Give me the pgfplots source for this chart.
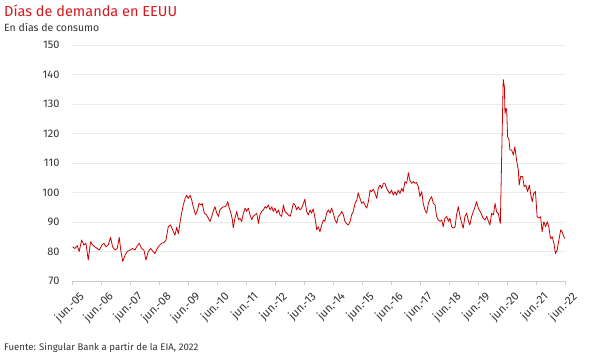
\documentclass[border=0pt]{standalone}
\usepackage{fontspec}
\setmainfont{Fira Sans}
\usepackage{pgfplots}
\pgfplotsset{compat=1.18}
\definecolor{linered}{RGB}{204,0,0}
\definecolor{titlered}{RGB}{214,24,30}
\definecolor{txt}{RGB}{51,51,51}
\definecolor{gridc}{RGB}{234,234,234}
\definecolor{axisgray}{RGB}{205,205,205}
\begin{document}
\begin{tikzpicture}
\path[use as bounding box] (0pt,0pt) rectangle (600pt,358pt);
\node[anchor=west, text=titlered, font=\fontsize{14.5}{16}\selectfont, inner sep=0] at (4pt,347pt) {Días de demanda en EEUU};
\node[anchor=west, text=txt, font=\fontsize{10.5}{12}\selectfont, inner sep=0] at (4pt,331pt) {En días de consumo};
\node[anchor=west, text=txt, font=\fontsize{9.6}{11}\selectfont, inner sep=0] at (4pt,10pt) {Fuente: Singular Bank a partir de la EIA, 2022};
\begin{axis}[
  at={(72pt,77pt)}, anchor=south west, scale only axis,
  width=493pt, height=236pt,
  xmin=2005.5, xmax=2022.5, ymin=70, ymax=150,
  ytick={70,80,90,100,110,120,130,140,150},
  xtick={2005.5,2006.5,2007.5,2008.5,2009.5,2010.5,2011.5,2012.5,2013.5,2014.5,2015.5,2016.5,2017.5,2018.5,2019.5,2020.5,2021.5,2022.5},
  xticklabels={jun.-05,jun.-06,jun.-07,jun.-08,jun.-09,jun.-10,jun.-11,jun.-12,jun.-13,jun.-14,jun.-15,jun.-16,jun.-17,jun.-18,jun.-19,jun.-20,jun.-21,jun.-22},
  /pgf/number format/assume math mode=true,
  axis x line*=bottom, axis y line*=left,
  x axis line style={draw=axisgray, line width=0.8pt, -},
  y axis line style={draw=none},
  ytick style={draw=none},
  xtick style={draw=axisgray, line width=0.8pt},
  tick align=outside, major tick length=4pt,
  ymajorgrids, grid style={draw=gridc, line width=0.8pt},
  yticklabel style={font=\fontsize{11}{12}\selectfont, text=txt, xshift=-5pt},
  xticklabel style={font=\fontsize{11.5}{13}\selectfont, text=txt, rotate=45, anchor=north east, xshift=4pt, yshift=-5pt},
  clip=false,
]
\addplot[linered, line width=0.8pt, line join=round, no marks] coordinates {
(2005.52,81.6)(2005.60,81.0)(2005.68,82.0)(2005.75,80.0)(2005.83,83.9)(2005.91,82.2)(2005.98,82.8)
(2006.06,77.1)(2006.14,83.3)(2006.21,82.2)(2006.29,81.6)(2006.37,81.0)(2006.44,80.5)(2006.52,82.0)
(2006.60,82.8)(2006.67,81.6)(2006.75,82.2)(2006.83,84.8)(2006.90,81.6)(2006.98,80.5)(2007.06,81.0)
(2007.13,84.8)(2007.18,80.5)(2007.25,76.6)(2007.33,78.8)(2007.41,80.0)(2007.50,80.5)(2007.59,81.0)
(2007.67,80.5)(2007.73,81.6)(2007.82,82.8)(2007.90,81.0)(2007.98,80.5)(2008.05,77.1)(2008.13,80.0)
(2008.21,81.0)(2008.28,80.2)(2008.36,79.3)(2008.44,81.0)(2008.51,82.0)(2008.59,82.8)(2008.67,83.0)
(2008.74,83.9)(2008.82,88.4)(2008.90,89.0)(2008.97,87.3)(2009.05,85.5)(2009.11,88.2)(2009.17,86.0)
(2009.22,89.5)(2009.28,93.0)(2009.34,95.8)(2009.40,98.0)(2009.45,99.1)(2009.51,98.0)(2009.57,99.1)
(2009.63,97.4)(2009.68,95.2)(2009.76,92.4)(2009.83,94.1)(2009.88,96.3)(2009.95,95.8)(2009.99,96.3)
(2010.06,93.0)(2010.14,92.4)(2010.20,91.3)(2010.26,90.2)(2010.32,91.9)(2010.37,93.6)(2010.43,95.2)
(2010.49,93.0)(2010.55,91.9)(2010.60,94.1)(2010.66,94.7)(2010.72,95.2)(2010.78,95.2)(2010.83,95.8)
(2010.87,96.9)(2010.91,95.2)(2010.98,93.0)(2011.03,90.8)(2011.06,88.0)(2011.12,91.3)(2011.18,93.6)
(2011.24,90.8)(2011.29,91.3)(2011.35,90.2)(2011.41,93.0)(2011.47,94.7)(2011.52,93.6)(2011.58,94.7)
(2011.64,92.4)(2011.70,90.8)(2011.75,91.9)(2011.81,92.4)(2011.87,93.0)(2011.93,89.5)(2011.98,92.4)
(2012.04,93.6)(2012.10,94.1)(2012.16,95.2)(2012.21,94.7)(2012.27,95.8)(2012.33,94.1)(2012.39,95.2)
(2012.44,93.6)(2012.50,94.7)(2012.56,93.0)(2012.62,94.1)(2012.67,92.4)(2012.73,91.9)(2012.79,95.8)
(2012.84,93.6)(2012.90,93.0)(2012.96,92.4)(2013.02,91.9)(2013.07,93.6)(2013.13,96.3)(2013.19,95.8)
(2013.25,94.1)(2013.30,95.2)(2013.36,94.1)(2013.42,94.7)(2013.48,96.3)(2013.53,97.7)(2013.59,93.6)
(2013.65,92.4)(2013.71,94.1)(2013.76,93.0)(2013.82,94.4)(2013.88,91.3)(2013.94,87.3)(2013.99,88.4)
(2014.05,86.7)(2014.11,89.0)(2014.17,90.7)(2014.22,90.2)(2014.28,93.0)(2014.34,94.1)(2014.40,93.0)
(2014.45,94.7)(2014.51,93.0)(2014.57,90.7)(2014.63,89.6)(2014.68,91.9)(2014.74,92.4)(2014.80,93.6)
(2014.86,92.4)(2014.91,90.2)(2014.97,89.4)(2015.03,89.0)(2015.09,90.2)(2015.14,92.4)(2015.20,93.6)
(2015.26,96.3)(2015.32,97.4)(2015.37,99.9)(2015.43,98.0)(2015.49,96.3)(2015.55,96.9)(2015.60,95.8)
(2015.66,94.7)(2015.72,96.9)(2015.78,100.8)(2015.83,100.3)(2015.89,101.1)(2015.95,99.7)(2016.01,98.0)
(2016.06,101.4)(2016.12,102.5)(2016.18,101.4)(2016.24,103.1)(2016.29,103.1)(2016.35,101.4)(2016.41,100.3)
(2016.46,99.7)(2016.52,100.8)(2016.58,99.1)(2016.64,100.3)(2016.69,99.1)(2016.75,100.8)(2016.81,99.7)
(2016.87,101.4)(2016.92,100.3)(2016.98,103.7)(2017.04,103.1)(2017.10,106.7)(2017.15,104.2)(2017.21,103.1)
(2017.27,103.7)(2017.33,103.1)(2017.38,103.4)(2017.44,102.0)(2017.50,98.6)(2017.56,100.3)(2017.61,96.3)
(2017.67,94.1)(2017.73,93.0)(2017.79,96.3)(2017.84,97.7)(2017.90,98.6)(2017.96,96.3)(2018.02,95.8)
(2018.07,91.9)(2018.13,90.7)(2018.19,90.2)(2018.25,90.7)(2018.30,88.4)(2018.36,91.3)(2018.42,91.9)
(2018.48,90.2)(2018.53,91.3)(2018.59,88.4)(2018.65,87.9)(2018.71,88.4)(2018.76,92.4)(2018.82,95.2)
(2018.88,91.9)(2018.94,89.6)(2018.99,87.9)(2019.05,91.9)(2019.11,93.0)(2019.17,90.2)(2019.22,89.0)
(2019.28,91.9)(2019.34,93.6)(2019.40,95.2)(2019.45,96.9)(2019.51,94.7)(2019.57,93.6)(2019.63,92.4)
(2019.68,91.3)(2019.74,90.7)(2019.80,91.9)(2019.86,90.2)(2019.91,89.0)(2019.97,92.9)(2020.03,92.4)
(2020.09,96.3)(2020.14,93.4)(2020.20,92.9)(2020.27,89.5)(2020.37,138.3)(2020.41,135.8)(2020.43,126.8)
(2020.47,128.5)(2020.49,127.9)(2020.52,118.9)(2020.57,117.8)(2020.60,114.4)(2020.66,114.4)(2020.72,112.7)
(2020.77,115.5)(2020.83,111.0)(2020.89,107.6)(2020.92,102.5)(2020.97,105.4)(2021.04,105.4)(2021.09,102.0)
(2021.15,102.5)(2021.21,100.3)(2021.27,102.5)(2021.32,99.2)(2021.37,96.9)(2021.42,99.7)(2021.48,100.3)
(2021.54,91.8)(2021.60,91.3)(2021.66,91.8)(2021.71,86.7)(2021.77,90.1)(2021.83,88.4)(2021.89,90.1)
(2021.94,88.4)(2022.00,84.4)(2022.06,85.0)(2022.12,82.7)(2022.17,79.3)(2022.23,80.5)(2022.29,83.9)
(2022.35,87.3)(2022.40,86.7)(2022.46,85.0)(2022.49,84.4)
};
\end{axis}
\end{tikzpicture}
\end{document}
